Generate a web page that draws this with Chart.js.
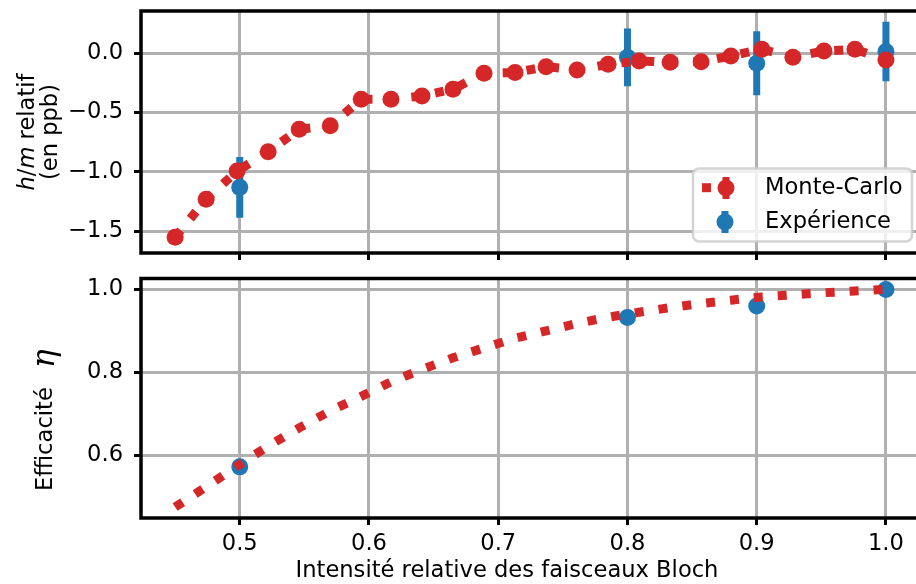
<!DOCTYPE html>
<html><head><meta charset="utf-8">
<script src="https://cdn.jsdelivr.net/npm/chart.js@4/dist/chart.umd.min.js"></script>
<style>
html,body{margin:0;padding:0;background:#fff;overflow:hidden;width:916px;height:584px;position:relative;}
#c1{position:absolute;left:0;top:0;}
#c2{position:absolute;left:0;top:270px;}
</style></head><body>
<canvas id="c1" width="930" height="270"></canvas>
<canvas id="c2" width="930" height="314"></canvas>
<script>
// ---- data ----
const xMC = [0.450, 0.474, 0.498, 0.522, 0.546, 0.570, 0.594, 0.617, 0.641, 0.665, 0.689, 0.713,
             0.737, 0.761, 0.785, 0.809, 0.833, 0.857, 0.880, 0.904, 0.928, 0.952, 0.976, 1.000];
const hmMC = [-1.550, -1.230, -0.992, -0.829, -0.640, -0.610, -0.388, -0.388, -0.360, -0.303, -0.168, -0.163,
              -0.113, -0.141, -0.093, -0.065, -0.076, -0.071, -0.023, 0.034, -0.034, 0.019, 0.034, -0.056];
const etaMC = [0.475, 0.524, 0.574, 0.622, 0.666, 0.707, 0.742, 0.777, 0.807, 0.835, 0.859, 0.882,
               0.900, 0.918, 0.933, 0.945, 0.956, 0.966, 0.974, 0.982, 0.987, 0.992, 0.996, 1.000];
const xExp = [0.5, 0.8, 0.9, 1.0];
const hmExp = [-1.13, -0.034, -0.084, 0.015];
const hmExpErr = [0.255, 0.243, 0.270, 0.250];
const etaExp = [0.572, 0.932, 0.960, 1.000];
const seriesNames = ['Monte-Carlo', 'Expérience'];
const xTicks = [0.5, 0.6, 0.7, 0.8, 0.9, 1.0];
const xTickLabels = ['0.5', '0.6', '0.7', '0.8', '0.9', '1.0'];
const yTopTicks = [-1.5, -1.0, -0.5, 0.0];
const yTopTickLabels = ['\u22121.5', '\u22121.0', '\u22120.5', '0.0'];
const yBotTicks = [0.6, 0.8, 1.0];
const yBotTickLabels = ['0.6', '0.8', '1.0'];

const RED = '#d62728', BLUE = '#1f77b4', GRID = '#b0b0b0';
const FONT = "'DejaVu Sans'";
const FS = 22.6;
Chart.defaults.font.family = FONT;
Chart.defaults.font.size = FS;
Chart.defaults.color = '#000';

function zeroPad(s) { s.paddingLeft = 0; s.paddingRight = 0; s.paddingTop = 0; s.paddingBottom = 0; }
function gridOpts() { return { color: GRID, lineWidth: 3, tickColor: '#000', tickWidth: 3, tickLength: 7, drawTicks: true }; }

function xScale(showLabels, h) {
  return {
    type: 'linear', min: 0.4236, max: 1.0275,
    afterBuildTicks: s => { s.ticks = xTicks.map(v => ({ value: v })); },
    ticks: { display: showLabels, padding: 6, autoSkip: false, maxRotation: 0,
             callback: (v, i) => xTickLabels[i], color: '#000', font: { size: FS } },
    grid: gridOpts(), border: { display: false },
    afterFit: s => { s.height = h; zeroPad(s); }
  };
}
function yScale(min, max, ticks, labels) {
  return {
    type: 'linear', position: 'left', min, max,
    afterBuildTicks: s => { s.ticks = ticks.map(v => ({ value: v })); },
    ticks: { padding: 11, autoSkip: false, callback: (v, i) => labels[i], color: '#000', font: { size: FS } },
    grid: gridOpts(), border: { display: false },
    afterFit: s => { s.width = 141; zeroPad(s); }
  };
}

const framePlugin = {
  id: 'frame',
  afterDatasetsDraw(chart) {
    const a = chart.chartArea, c = chart.ctx;
    c.save(); c.strokeStyle = '#000'; c.lineWidth = 3.5;
    c.strokeRect(a.left, a.top, a.right - a.left, a.bottom - a.top);
    c.restore();
  }
};

const errorBarPlugin = {
  id: 'errbars',
  beforeDatasetDraw(chart, args) {
    const ds = chart.data.datasets[args.index];
    if (!ds.errY) return;
    const c = chart.ctx, xs = chart.scales.x, ys = chart.scales.y, a = chart.chartArea;
    c.save();
    c.beginPath(); c.rect(a.left, a.top, a.right - a.left, a.bottom - a.top); c.clip();
    c.strokeStyle = ds.backgroundColor; c.lineWidth = 7; c.lineCap = 'butt';
    ds.data.forEach((p, i) => {
      const px = xs.getPixelForValue(p.x);
      c.beginPath();
      c.moveTo(px, ys.getPixelForValue(p.y - ds.errY[i]));
      c.lineTo(px, ys.getPixelForValue(p.y + ds.errY[i]));
      c.stroke();
    });
    c.restore();
  }
};

function drawRotated(c, x, y, parts, anchor) {
  c.save(); c.translate(x, y); c.rotate(-Math.PI / 2);
  c.textBaseline = 'alphabetic'; c.textAlign = 'left'; c.fillStyle = '#000';
  let total = 0;
  parts.forEach(p => { c.font = p.font; p.w = c.measureText(p.text).width; total += p.w; });
  let cx = anchor === 'start' ? 0 : -total / 2;
  parts.forEach(p => { c.font = p.font; c.fillText(p.text, cx, 0); cx += p.w; });
  c.restore();
}

const topLabels = {
  id: 'topLabels',
  afterDraw(chart) {
    const c = chart.ctx;
    const it = 'italic ' + FS + 'px ' + FONT, rg = FS + 'px ' + FONT;
    drawRotated(c, 34, 132, [{ text: 'h', font: it }, { text: '/', font: rg }, { text: 'm', font: it }, { text: ' relatif', font: rg }]);
    drawRotated(c, 57, 132, [{ text: '(en ppb)', font: rg }]);
    // legend
    c.save();
    c.beginPath(); c.roundRect(693, 168.5, 219, 73, 6);
    c.fillStyle = 'rgba(255,255,255,0.8)'; c.fill();
    c.strokeStyle = 'rgba(204,204,204,0.85)'; c.lineWidth = 2.5; c.stroke();
    // entry 1
    c.fillStyle = RED; c.fillRect(702, 183.2, 9, 9);
    c.strokeStyle = RED; c.lineWidth = 7;
    c.beginPath(); c.moveTo(726, 177); c.lineTo(726, 199); c.stroke();
    c.beginPath(); c.arc(726, 188, 8.5, 0, Math.PI * 2); c.fill();
    // entry 2
    c.fillStyle = BLUE; c.strokeStyle = BLUE;
    c.beginPath(); c.moveTo(725, 211); c.lineTo(725, 233); c.stroke();
    c.beginPath(); c.arc(725, 222, 8.5, 0, Math.PI * 2); c.fill();
    c.fillStyle = '#000'; c.font = FS + 'px ' + FONT; c.textBaseline = 'middle'; c.textAlign = 'left';
    c.fillText(seriesNames[0], 765, 188);
    c.fillText(seriesNames[1], 765, 222);
    c.restore();
  }
};

const botLabels = {
  id: 'botLabels',
  afterDraw(chart) {
    const c = chart.ctx;
    drawRotated(c, 52, 221, [{ text: 'Efficacité', font: FS + 'px ' + FONT }], 'start');
    drawRotated(c, 54, 98, [{ text: '\u03B7', font: 'italic 31px "DejaVu Serif"' }], 'start');
    c.save(); c.fillStyle = '#000'; c.font = FS + 'px ' + FONT; c.textAlign = 'center'; c.textBaseline = 'middle';
    c.fillText('Intensité relative des faisceaux Bloch', 507, 301);
    c.restore();
  }
};

const common = {
  responsive: false, animation: false, events: [],
  plugins: { legend: { display: false }, tooltip: { enabled: false } }
};

new Chart(document.getElementById('c1'), {
  type: 'scatter',
  data: { datasets: [
    { label: seriesNames[0], data: xMC.map((x, i) => ({ x, y: hmMC[i] })), showLine: true,
      borderColor: RED, backgroundColor: RED, borderWidth: 9, borderDash: [9, 15], borderCapStyle: 'butt',
      pointRadius: 8.5, pointHoverRadius: 8.5, pointBorderWidth: 0, pointBackgroundColor: RED, tension: 0 },
    { label: seriesNames[1], data: xExp.map((x, i) => ({ x, y: hmExp[i] })), errY: hmExpErr, showLine: false,
      borderColor: BLUE, backgroundColor: BLUE, pointRadius: 8.5, pointHoverRadius: 8.5, pointBorderWidth: 0 }
  ] },
  options: Object.assign({}, common, {
    layout: { padding: { top: 11, left: 0, right: 6, bottom: 0 } },
    scales: { x: xScale(false, 17), y: yScale(-1.683, 0.356, yTopTicks, yTopTickLabels) }
  }),
  plugins: [errorBarPlugin, framePlugin, topLabels]
});

new Chart(document.getElementById('c2'), {
  type: 'scatter',
  data: { datasets: [
    { label: seriesNames[0], data: xMC.map((x, i) => ({ x, y: etaMC[i] })), showLine: true,
      borderColor: RED, backgroundColor: RED, borderWidth: 9, borderDash: [9, 15], borderCapStyle: 'butt',
      pointRadius: 0, pointHoverRadius: 0, tension: 0 },
    { label: seriesNames[1], data: xExp.map((x, i) => ({ x, y: etaExp[i] })), showLine: false,
      borderColor: BLUE, backgroundColor: BLUE, pointRadius: 8.5, pointHoverRadius: 8.5, pointBorderWidth: 0 }
  ] },
  options: Object.assign({}, common, {
    layout: { padding: { top: 6, left: 0, right: 6, bottom: 0 } },
    scales: { x: xScale(true, 66), y: yScale(0.4487, 1.0263, yBotTicks, yBotTickLabels) }
  }),
  plugins: [framePlugin, botLabels]
});
</script>
</body></html>
